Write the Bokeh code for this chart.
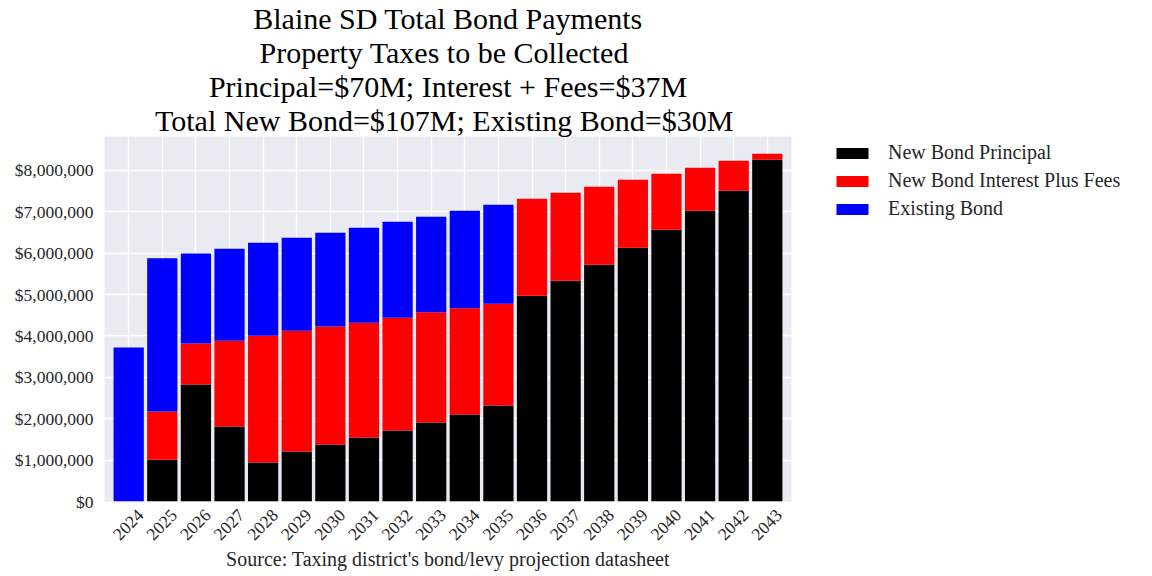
from math import pi
from bokeh.plotting import figure
from bokeh.models import (ColumnDataSource, Legend, LegendItem, Title, FixedTicker,
                          NumeralTickFormatter, Range1d)
from bokeh.embed import file_html
from bokeh.resources import INLINE

years = ["2024", "2025", "2026", "2027", "2028", "2029", "2030", "2031", "2032", "2033",
         "2034", "2035", "2036", "2037", "2038", "2039", "2040", "2041", "2042", "2043"]
principal = [0, 1006000, 2825000, 1810000, 940000, 1207000, 1376000, 1545000, 1714000, 1907000,
             2100000, 2318000, 4974000, 5336000, 5722000, 6133000, 6567000, 7026000, 7509000, 8258000]
interest = [0, 1170000, 990000, 2077000, 3066000, 2920000, 2850000, 2777000, 2729000, 2664000,
            2568000, 2463000, 2342000, 2125000, 1884000, 1642000, 1353000, 1038000, 724000, 145000]
existing = [3720000, 3700000, 2175000, 2220000, 2245000, 2245000, 2270000, 2294000, 2320000, 2310000,
            2358000, 2390000, 0, 0, 0, 0, 0, 0, 0, 0]
series_names = ["New Bond Principal", "New Bond Interest Plus Fees", "Existing Bond"]
series_colors = ["#000000", "#FF0000", "#0000FF"]
title_lines = ["Blaine SD Total Bond Payments",
               " Property Taxes to be Collected",
               "Principal=$70M; Interest + Fees=$37M",
               " Total New Bond=$107M; Existing Bond=$30M"]
source_note = "Source: Taxing district's bond/levy projection datasheet"

FONT = "Liberation Serif"
TXT = "#262626"

xs = list(range(len(years)))
label_pos = [round(i + 0.36, 2) for i in xs]
src = ColumnDataSource(dict(x=xs, principal=principal, interest=interest, existing=existing))

p = figure(frame_width=687, frame_height=365, output_backend="svg", toolbar_location=None,
           x_range=Range1d(-0.72, len(years) - 1 + 0.72), y_range=Range1d(0, 8.82e6),
           min_border_left=104, min_border_right=345, min_border_top=0, min_border_bottom=2)
p.title.visible = False

renderers = p.vbar_stack(["principal", "interest", "existing"], x="x", width=0.9, source=src,
                         color=series_colors, line_color=None)

for line in reversed(title_lines):
    p.add_layout(Title(text=line, align="center", text_font=FONT, text_font_size="30px",
                       text_font_style="normal", text_color="#000000", standoff=-1.25,
                       offset=0), "above")

p.background_fill_color = "#EAEAF2"
p.border_fill_color = "white"
p.outline_line_color = None
p.grid.grid_line_color = "white"
p.grid.grid_line_width = 1.3

p.xaxis.ticker = FixedTicker(ticks=label_pos)
p.xaxis.major_label_overrides = {lp: y for lp, y in zip(label_pos, years)}
p.xaxis.major_label_orientation = pi / 4
p.yaxis.ticker = FixedTicker(ticks=[i * 1e6 for i in range(9)])
p.yaxis.formatter = NumeralTickFormatter(format="$0,0")
p.xgrid.ticker = FixedTicker(ticks=xs)

for ax in (p.xaxis[0], p.yaxis[0]):
    ax.axis_line_color = None
    ax.major_tick_line_color = None
    ax.minor_tick_line_color = None
    ax.major_label_text_font = FONT
    ax.major_label_text_font_size = "17.5px"
    ax.major_label_text_color = TXT
    ax.major_label_standoff = 5

p.xaxis.axis_label = source_note
p.xaxis.axis_label_text_font = FONT
p.xaxis.axis_label_text_font_size = "20px"
p.xaxis.axis_label_text_font_style = "normal"
p.xaxis.axis_label_text_color = TXT
p.xaxis.axis_label_standoff = 0

items = [LegendItem(label=n, renderers=[r]) for n, r in zip(series_names, renderers)]
legend = Legend(items=items, location=(41, 281), glyph_width=40, glyph_height=14,
                label_text_font=FONT, label_text_font_size="20px", label_text_color=TXT,
                label_standoff=16, spacing=5, padding=0, margin=0,
                border_line_color=None, background_fill_alpha=0)
p.add_layout(legend, "right")

open("out.html", "w").write(file_html(p, INLINE))
